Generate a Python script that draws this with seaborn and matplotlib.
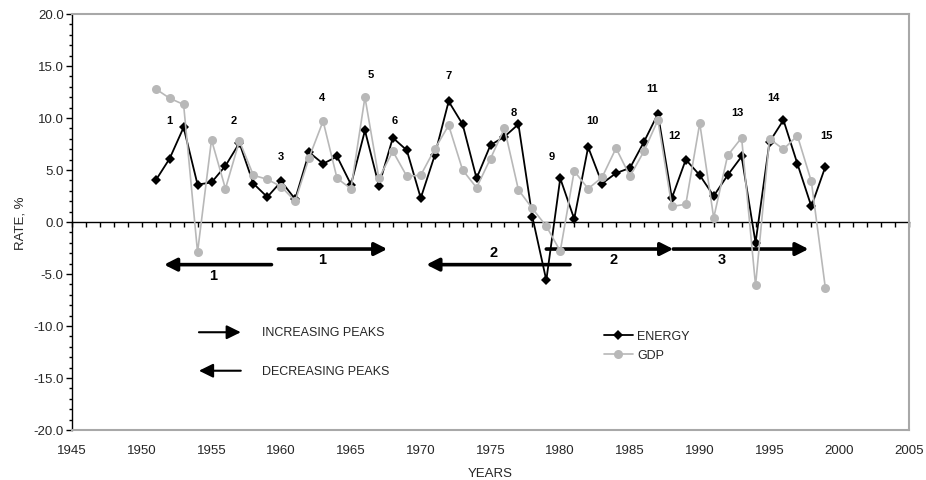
import numpy as np
import pandas as pd
import matplotlib
matplotlib.use("Agg")
import matplotlib.pyplot as plt
import seaborn as sns
from matplotlib.ticker import MultipleLocator, FormatStrFormatter
from matplotlib.lines import Line2D

# ---------------- data ----------------
years = list(range(1951, 2000))
energy = [4.0, 6.1, 9.1, 3.6, 3.8, 5.4, 7.6, 3.7, 2.4, 3.9,
          2.2, 6.7, 5.6, 6.3, 3.6, 8.8, 3.5, 8.1, 6.9, 2.3,
          6.4, 11.6, 9.4, 4.2, 7.4, 8.2, 9.4, 0.5, -5.6, 4.2,
          0.3, 7.2, 3.7, 4.7, 5.2, 7.7, 10.4, 2.3, 6.0, 4.5,
          2.5, 4.5, 6.3, -2.0, 7.7, 9.8, 5.6, 1.5, 5.3]
gdp = [12.8, 11.9, 11.3, -2.9, 7.9, 3.2, 7.8, 4.5, 4.1, 3.4,
       2.0, 6.2, 9.7, 4.2, 3.2, 12.0, 4.2, 6.8, 4.4, 4.5,
       7.0, 9.3, 5.0, 3.3, 6.1, 9.0, 3.1, 1.3, -0.4, -2.8,
       4.9, 3.2, 4.3, 7.1, 4.4, 6.8, 9.8, 1.5, 1.7, 9.5,
       0.4, 6.4, 8.1, -6.1, 8.0, 7.0, 8.3, 3.9, -6.3]

peak_labels = [str(i) for i in range(1, 16)]
peak_x = [1952.0, 1956.6, 1960.0, 1962.9, 1966.4, 1968.1, 1972.0, 1976.7,
          1979.4, 1982.3, 1986.6, 1988.2, 1992.7, 1995.3, 1999.1]
peak_y = [9.8, 9.8, 6.3, 12.0, 14.2, 9.8, 14.1, 10.6,
          6.3, 9.8, 12.9, 8.4, 10.6, 12.0, 8.4]

trend_start = [1959.3, 1959.8, 1980.7, 1979.0, 1988.1]
trend_end = [1951.6, 1967.6, 1970.4, 1988.1, 1997.8]
trend_y = [-4.1, -2.6, -4.1, -2.6, -2.6]
trend_labels = ["1", "1", "2", "2", "3"]
trend_label_x = [1955.1, 1962.9, 1975.2, 1983.8, 1991.6]
trend_label_y = [-5.1, -3.6, -2.9, -3.6, -3.6]

key_texts = ["INCREASING PEAKS", "DECREASING PEAKS"]

# ---------------- style ----------------
sns.set_theme(style="white")
plt.rcParams["font.family"] = ["Liberation Sans", "DejaVu Sans"]

W, H = 926, 481
fig = plt.figure(figsize=(W / 100, H / 100), dpi=100)
L, R, T, B = 72, 909, 15, 431
ax = fig.add_axes([L / W, 1 - B / H, (R - L) / W, (B - T) / H])

df = pd.DataFrame({"YEAR": years * 2,
                   "RATE": energy + gdp,
                   "SERIES": ["ENERGY"] * len(years) + ["GDP"] * len(years)})

sns.lineplot(data=df[df.SERIES == "ENERGY"], x="YEAR", y="RATE", ax=ax,
             color="black", lw=1.3, marker="D", markersize=5.2,
             markeredgewidth=0, zorder=3, legend=False)
sns.lineplot(data=df[df.SERIES == "GDP"], x="YEAR", y="RATE", ax=ax,
             color="#b8b8b8", lw=1.2, marker="o", markersize=6.5,
             markeredgewidth=0, zorder=4, legend=False)

ax.set_xlim(1945, 2005)
ax.set_ylim(-20, 20)

# frame
frame_col = "#a8a8a8"
for s in ["top", "right", "bottom"]:
    ax.spines[s].set_color(frame_col)
    ax.spines[s].set_linewidth(1.5)
ax.spines["left"].set_color("black")
ax.spines["left"].set_linewidth(1.0)

# y axis
ax.yaxis.set_major_locator(MultipleLocator(5))
ax.yaxis.set_minor_locator(MultipleLocator(1))
ax.yaxis.set_major_formatter(FormatStrFormatter("%.1f"))
ax.tick_params(axis="y", which="major", direction="out", length=4, width=1,
               color="black", left=True, labelsize=9.5, pad=2)
ax.tick_params(axis="y", which="minor", direction="out", length=2, width=1,
               color="black", left=True)

# x labels at the bottom
ax.xaxis.set_major_locator(MultipleLocator(5))
ax.tick_params(axis="x", which="both", length=0, labelsize=9.5, pad=10)
ax.set_xlabel("YEARS", fontsize=9.5, labelpad=8)
ax.set_ylabel("RATE, %", fontsize=9.5, labelpad=5)

# zero axis with ticks
sec = ax.secondary_xaxis(0.5)
sec.set_alignment("bottom")
sec.xaxis.set_major_locator(MultipleLocator(5))
sec.xaxis.set_minor_locator(MultipleLocator(1))
sec.tick_params(axis="x", which="both", direction="out", length=3.5, width=1,
                color="black", labelbottom=False, bottom=True)
sec.spines["bottom"].set_color("black")
sec.spines["bottom"].set_linewidth(1.0)

# peak numbers
for lab, px, py in zip(peak_labels, peak_x, peak_y):
    ax.text(px, py, lab, fontsize=8, fontweight="bold", ha="center",
            va="center", color="black")

# trend arrows
for xs, xe, yy in zip(trend_start, trend_end, trend_y):
    ax.annotate("", xy=(xe, yy), xytext=(xs, yy),
                arrowprops=dict(arrowstyle="-|>,head_length=0.75,head_width=0.38",
                                lw=2.6, color="black", shrinkA=0, shrinkB=0,
                                mutation_scale=10))
for lab, lx, ly in zip(trend_labels, trend_label_x, trend_label_y):
    ax.text(lx, ly, lab, fontsize=10.5, fontweight="bold", ha="center",
            va="center", color="black")

# key for arrows
ax.annotate("", xy=(1957.1, -10.6), xytext=(1954.1, -10.6),
            arrowprops=dict(arrowstyle="-|>,head_length=0.85,head_width=0.42",
                            lw=1.5, color="black", shrinkA=0, shrinkB=0,
                            mutation_scale=10))
ax.annotate("", xy=(1954.1, -14.3), xytext=(1957.1, -14.3),
            arrowprops=dict(arrowstyle="-|>,head_length=0.85,head_width=0.42",
                            lw=1.5, color="black", shrinkA=0, shrinkB=0,
                            mutation_scale=10))
ax.text(1958.6, -10.6, key_texts[0], fontsize=9, ha="left", va="center")
ax.text(1958.6, -14.3, key_texts[1], fontsize=9, ha="left", va="center")

# series legend
handles = [Line2D([], [], color="black", lw=1.3, marker="D", markersize=5.2,
                  markeredgewidth=0),
           Line2D([], [], color="#b8b8b8", lw=1.2, marker="o", markersize=6.5,
                  markeredgewidth=0)]
ax.legend(handles, ["ENERGY", "GDP"], loc="upper left",
          bbox_to_anchor=((604 - L) / (R - L), 1 - (331 - T) / (B - T)),
          frameon=False, fontsize=9, handlelength=2.3, handletextpad=0.35,
          labelspacing=0.55, borderpad=0, borderaxespad=0)

fig.savefig("out.png", dpi=100)
